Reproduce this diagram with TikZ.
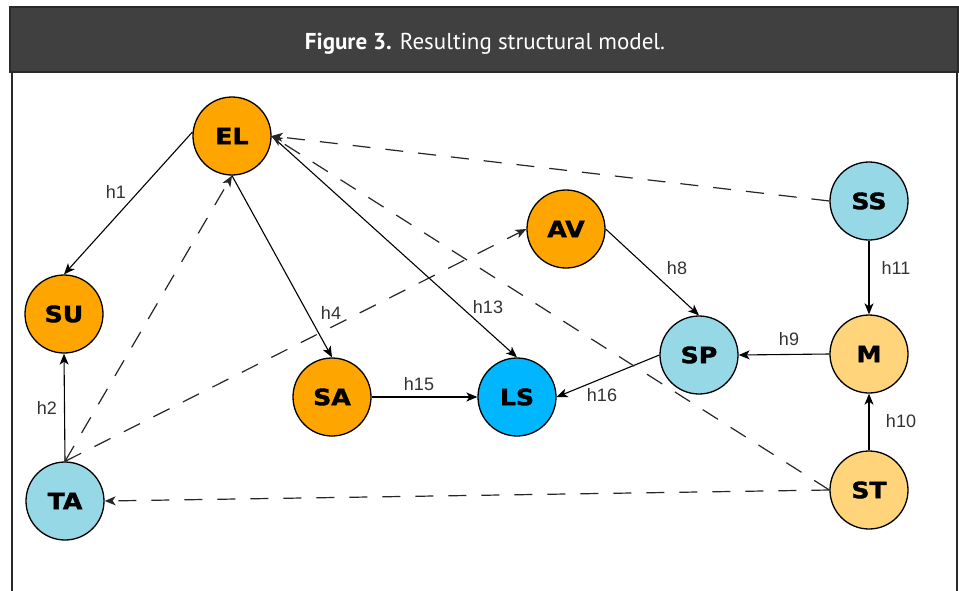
\documentclass[tikz,border=0pt]{standalone}
\usepackage{fontspec}
\setmainfont{Liberation Sans}
\newfontfamily\titlefont{PT Sans}
\newfontfamily\varfont[FakeStretch=1.12,FakeBold=1.6]{DejaVu Sans}
\usetikzlibrary{arrows.meta}
\definecolor{barfill}{HTML}{404040}
\definecolor{barline}{HTML}{2A2A2A}
\definecolor{orangevar}{HTML}{FFA500}
\definecolor{bluevar}{HTML}{96D8E6}
\definecolor{skyvar}{HTML}{00B7FF}
\definecolor{sandvar}{HTML}{FFD47A}
\definecolor{hlabel}{HTML}{333333}

\begin{document}
\begin{tikzpicture}[x=1pt,y=-1pt,
    var/.style={circle,draw=black,line width=1.3pt,minimum size=78pt,inner sep=0pt,
        font={\varfont\bfseries\fontsize{22.5pt}{22.5pt}\selectfont}},
    path/.style={line width=1.1pt,-{Stealth[length=11pt,width=9pt,inset=3pt]}},
    rejected/.style={path,line width=1.2pt,dash pattern=on 18pt off 15pt,draw=black!85},
    hyp/.style={text=hlabel,font=\fontsize{18pt}{18pt}\selectfont}]
    \useasboundingbox (0,0) rectangle (959,590);
    \fill[white] (0,0) rectangle (959,590);
    \draw[barline,line width=2pt] (11.5,72) -- (11.5,592);
    \draw[barline,line width=2pt] (957,72) -- (957,592);
    \draw[barline,fill=barfill,line width=2pt] (10,7) rectangle (958,72);
    \node[text=white,font={\titlefont\fontsize{23pt}{23pt}\selectfont}] (title) at (485,44)
        {\textbf{Figure 3.} Resulting structural model.};

    \node[var,fill=orangevar] (EL) at (232,136) {EL};
    \node[var,fill=orangevar] (SU) at (64,314) {SU};
    \node[var,fill=bluevar] (TA) at (65,501) {TA};
    \node[var,fill=orangevar] (SA) at (332,397) {SA};
    \node[var,fill=skyvar] (LS) at (517,397) {LS};
    \node[var,fill=orangevar] (AV) at (566,229) {AV};
    \node[var,fill=bluevar] (SP) at (699,355) {SP};
    \node[var,fill=bluevar] (SS) at (869,201) {SS};
    \node[var,fill=sandvar] (M) at (869,354) {M};
    \node[var,fill=sandvar] (ST) at (869,490) {ST};

    \draw[path] (EL.174) -- (SU.north);
    \draw[path] (TA.north) -- (SU.south);
    \draw[path] (EL.south) -- (SA.north);
    \draw[path] (EL.east) -- (LS.north);
    \draw[path] (SA.east) -- (LS.west);
    \draw[path] (SP.west) -- (LS.east);
    \draw[path] (AV.east) -- (SP.north);
    \draw[path] (M.west) -- (SP.east);
    \draw[path] (SS.south) -- (M.north);
    \draw[path] (ST.north) -- (M.south);

    \draw[rejected] (SS.west) -- (EL.east);
    \draw[rejected] (ST.west) -- (EL.east);
    \draw[rejected] (TA.north) -- (EL.south);
    \draw[rejected] (TA.north) -- (AV.west);
    \draw[rejected] (ST.west) -- (TA.east);

    \node[hyp] (h1) at (116,192) {h1};
    \node[hyp] (h2) at (47,408) {h2};
    \node[hyp] (h4) at (331,313) {h4};
    \node[hyp] (h13) at (488,307) {h13};
    \node[hyp] (h15) at (419,384) {h15};
    \node[hyp] (h16) at (602,395) {h16};
    \node[hyp] (h8) at (677,268) {h8};
    \node[hyp] (h9) at (789,339) {h9};
    \node[hyp] (h11) at (896,268) {h11};
    \node[hyp] (h10) at (901,421) {h10};
\end{tikzpicture}
\end{document}
